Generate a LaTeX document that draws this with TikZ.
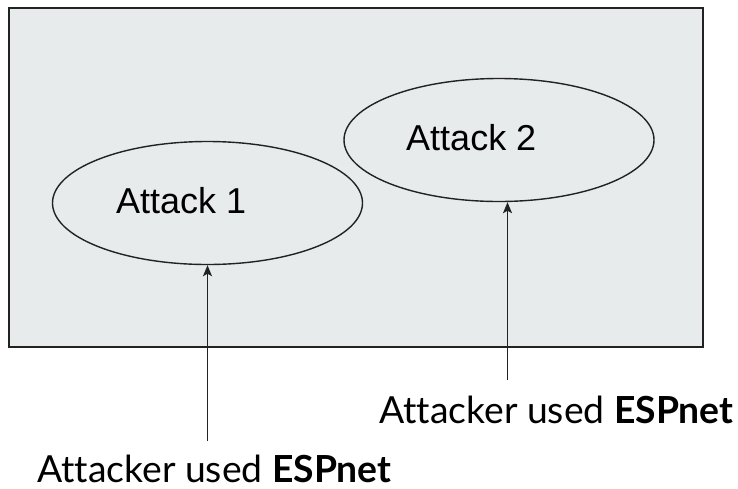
\documentclass[tikz,border=0pt]{standalone}
\usepackage{fontspec}
\setmainfont[Ligatures=CommonOff]{Lato}
\newfontfamily\arialfont{Liberation Sans}
\usetikzlibrary{shapes.geometric,arrows.meta}
\definecolor{boxfill}{HTML}{E8EBEB}
\definecolor{ink}{HTML}{222222}
\begin{document}
\begin{tikzpicture}[x=1pt,y=-1pt,
  oval/.style={draw=ink,line width=1.4pt,ellipse,minimum width=310pt,minimum height=123pt,inner sep=0pt},
  attacktext/.style={anchor=base west,inner sep=0pt,font=\arialfont\fontsize{36}{40}\selectfont},
  usedtext/.style={anchor=base west,inner sep=0pt,font=\fontsize{37.3}{40}\selectfont},
  pointer/.style={draw=ink,line width=1.5pt,-{Stealth[length=11pt,width=9pt,inset=2.5pt]}}]
\useasboundingbox (0,0) rectangle (738,488);
\node[draw=ink,fill=boxfill,line width=2pt,minimum width=694pt,minimum height=339.5pt,inner sep=0pt,anchor=north west] (frame) at (7.5,6.5) {};
\node[oval] (ell1) at (207.5,203) {};
\node[oval] (ell2) at (499,140) {};
\node[attacktext] (t1) at (116,213) {Attack 1};
\node[attacktext] (t2) at (406,150) {Attack 2};
\coordinate (s1) at (207.5,441);
\coordinate (s2) at (507.5,380);
\draw[pointer] (s1) -- (ell1.south);
\draw[pointer] (s2) -- (s2 |- ell2.south);
\node[usedtext] (l1) at (37,482) {Attacker used \textbf{ESPnet}};
\node[usedtext] (l2) at (379,423) {Attacker used \textbf{ESPnet}};
\end{tikzpicture}
\end{document}
